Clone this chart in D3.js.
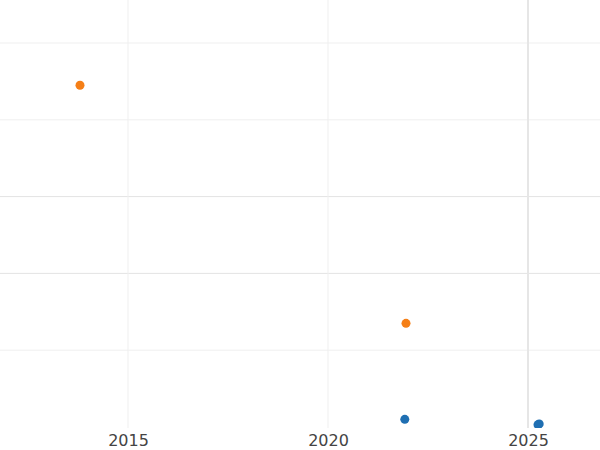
<!DOCTYPE html>
<html><head><meta charset="utf-8">
<script src="https://cdn.jsdelivr.net/npm/d3@7"></script>
<style>body{margin:0;background:#fff}</style>
</head><body>
<svg width="600" height="450"></svg>
<script>
const orangeYears = [2013.8, 2021.95]
const orangeValues = [4.45, 1.35]
const blueYears = [2021.92, 2025.28, 2025.25]
const blueValues = [0.1, 0.04, 0.03]
const xTicks = [2015, 2020, 2025]
const yTicks = [1, 2, 3, 4, 5]

const svg = d3.select('svg')
const plotBottom = 428
const x = d3.scaleLinear().domain([2011.8, 2026.8]).range([0, 600])
const y = d3.scaleLinear().domain([0, 5]).range([427, 43])

svg.append('defs').append('clipPath').attr('id', 'clip')
	.append('rect').attr('x', 0).attr('y', 0).attr('width', 600).attr('height', plotBottom)

const grid = svg.append('g')
grid.selectAll('line.h').data(yTicks).enter().append('line')
	.attr('x1', 0).attr('x2', 600)
	.attr('y1', d => y(d)).attr('y2', d => y(d))
	.attr('stroke', d => (d == 2 || d == 3) ? '#e3e3e3' : '#efefef')
grid.selectAll('line.v').data(xTicks).enter().append('line')
	.attr('y1', 0).attr('y2', plotBottom)
	.attr('x1', d => x(d)).attr('x2', d => x(d))
	.attr('stroke', d => d == 2025 ? '#e6e6e6' : '#efefef')
	.attr('stroke-width', d => d == 2025 ? 2 : 1)

const xAxis = svg.append('g').attr('transform', 'translate(0,' + plotBottom + ')')
	.call(d3.axisBottom(x).tickValues(xTicks).tickFormat(d3.format('d')).tickSize(0).tickPadding(7))
xAxis.select('.domain').remove()
xAxis.selectAll('text').attr('font-family', 'DejaVu Sans').attr('font-size', 16).attr('fill', '#444')

const pts = svg.append('g').attr('clip-path', 'url(#clip)')
pts.selectAll('circle.o').data(orangeYears).enter().append('circle')
	.attr('cx', d => x(d)).attr('cy', (d, i) => y(orangeValues[i]))
	.attr('r', 4.5).attr('fill', '#f57f17')
pts.selectAll('circle.b').data(blueYears).enter().append('circle')
	.attr('cx', d => x(d)).attr('cy', (d, i) => y(blueValues[i]))
	.attr('r', 4.5).attr('fill', '#1f6fb2')
</script>
</body></html>
